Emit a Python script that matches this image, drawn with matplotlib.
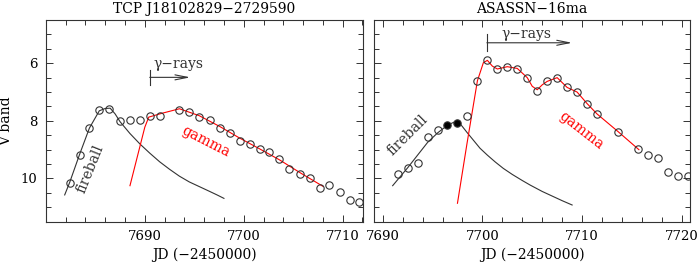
import matplotlib
matplotlib.use("Agg")
import matplotlib.pyplot as plt
from matplotlib.ticker import MultipleLocator

plt.rcParams['font.family'] = ['DejaVu Serif']

# --- TCP J18102829-2729590 (left panel) ---
tcp_jd = [7682.4, 7683.4, 7684.4, 7685.4, 7686.4, 7687.5, 7688.5, 7689.5,
          7690.5, 7691.5, 7693.5, 7694.5, 7695.5, 7696.6, 7697.6, 7698.6,
          7699.6, 7700.6, 7701.6, 7702.6, 7703.6, 7704.6, 7705.7, 7706.7,
          7707.7, 7708.6, 7709.7, 7710.7, 7711.7]
tcp_v = [10.14, 9.17, 8.25, 7.64, 7.59, 8.02, 7.98, 7.98,
         7.83, 7.83, 7.61, 7.70, 7.87, 7.98, 8.25, 8.41,
         8.70, 8.80, 8.97, 9.09, 9.34, 9.66, 9.85, 9.98,
         10.32, 10.21, 10.48, 10.73, 10.83]
# fireball model curve
tcp_fire_jd = [7681.9, 7682.4, 7683.4, 7684.4, 7685.4, 7686.0, 7686.5, 7687.0,
               7687.5, 7688.5, 7689.5, 7690.5, 7691.5, 7692.5, 7693.5, 7694.5,
               7695.5, 7696.5, 7697.3, 7698.0]
tcp_fire_v = [10.57, 10.14, 9.17, 8.25, 7.65, 7.57, 7.56, 7.76,
              8.03, 8.44, 8.80, 9.12, 9.42, 9.68, 9.92, 10.12,
              10.28, 10.44, 10.57, 10.69]
# gamma model curve
tcp_gam_jd = [7688.5, 7690.0, 7690.4, 7691.7, 7693.5, 7695.5, 7697.6, 7699.6,
              7701.6, 7703.6, 7705.7, 7708.0]
tcp_gam_v = [10.25, 8.22, 7.87, 7.74, 7.58, 7.82, 8.20, 8.60,
             8.97, 9.35, 9.80, 10.27]

# --- ASASSN-16ma (right panel) ---
asn_jd = [7691.5, 7692.5, 7693.5, 7694.5, 7695.5, 7698.5, 7699.5, 7700.5,
          7701.5, 7702.5, 7703.5, 7704.5, 7705.5, 7706.5, 7707.5, 7708.5,
          7709.5, 7710.5, 7711.5, 7713.6, 7715.6, 7716.6, 7717.6, 7718.6,
          7719.6, 7720.6]
asn_v = [9.86, 9.63, 9.45, 8.56, 8.33, 7.84, 6.63, 5.89,
         6.21, 6.14, 6.19, 6.52, 6.95, 6.63, 6.50, 6.84,
         7.01, 7.41, 7.76, 8.37, 8.99, 9.17, 9.28, 9.77,
         9.92, 9.92]
asn_filled_jd = [7696.5, 7697.5]
asn_filled_v = [8.13, 8.07]
asn_fire_jd = [7691.0, 7692.5, 7694.5, 7695.5, 7696.5, 7697.5, 7698.0, 7698.5,
               7699.0, 7699.76, 7700.5, 7701.3, 7702.1, 7703.0, 7704.0, 7704.8,
               7706.0, 7707.0, 7708.0, 7709.0]
asn_fire_v = [10.25, 9.63, 8.75, 8.42, 8.15, 7.99, 8.20, 8.42,
              8.63, 8.95, 9.19, 9.43, 9.65, 9.86, 10.07, 10.23,
              10.45, 10.61, 10.77, 10.92]
asn_gam_jd = [7697.5, 7698.45, 7699.5, 7700.1, 7700.5, 7701.0, 7701.5, 7702.5,
              7703.5, 7704.5, 7705.0, 7705.5, 7706.0, 7706.5, 7707.5, 7708.5,
              7709.5, 7710.5, 7711.5, 7713.6, 7715.7]
asn_gam_v = [10.86, 8.80, 6.61, 5.98, 5.90, 6.10, 6.20, 6.12,
             6.18, 6.50, 6.80, 6.92, 6.75, 6.63, 6.50, 6.84,
             7.00, 7.40, 7.76, 8.37, 9.00]

INK = '#333333'


def style_axes(ax, xlim):
    ax.set_xlim(*xlim)
    ax.set_ylim(11.5, 4.5)
    ax.xaxis.set_major_locator(MultipleLocator(10))
    ax.xaxis.set_minor_locator(MultipleLocator(2))
    ax.yaxis.set_major_locator(MultipleLocator(2))
    ax.yaxis.set_minor_locator(MultipleLocator(0.5))
    ax.tick_params(which='both', direction='in', top=True, right=True,
                   width=0.7, color=INK, labelsize=9.5, pad=6)
    ax.tick_params(which='major', length=5)
    ax.tick_params(which='minor', length=3.5)
    for s in ax.spines.values():
        s.set_linewidth(0.8)
        s.set_color(INK)
    ax.set_xlabel('JD (\u22122450000)', fontsize=10, labelpad=3)


def gamma_arrow(ax, x0, x1, y, bar_lo, bar_hi, tx, ty):
    ax.plot([x0, x0], [bar_lo, bar_hi], color=INK, lw=0.8)
    ax.annotate('', xy=(x1, y), xytext=(x0, y),
                arrowprops=dict(arrowstyle='->,head_length=0.9,head_width=0.18',
                                lw=0.8, color=INK, shrinkA=0, shrinkB=0))
    ax.text(tx, ty, '\u03b3\u2212rays', fontsize=10, color=INK,
            ha='left', va='baseline')


fig = plt.figure(figsize=(6.99, 2.62), dpi=100)
ax1 = fig.add_axes([0.0658, 0.1538, 0.4531, 0.7698])
ax2 = fig.add_axes([0.5355, 0.1538, 0.4517, 0.7698])

# left panel
ax1.plot(tcp_fire_jd, tcp_fire_v, color=INK, lw=0.8)
ax1.plot(tcp_gam_jd, tcp_gam_v, color='red', lw=0.8)
ax1.plot(tcp_jd, tcp_v, 'o', ms=5.3, mfc='none', mec=INK, mew=0.8)
gamma_arrow(ax1, 7690.5, 7694.6, 6.49, 6.23, 6.76, 7690.9, 6.18)
ax1.text(7684.5, 9.68, 'fireball', rotation=68, fontsize=10, color=INK,
         ha='center', va='center')
ax1.text(7696.2, 8.71, 'gamma', rotation=-27, fontsize=10, color='red',
         ha='center', va='center')
style_axes(ax1, (7680.01, 7712.03))
ax1.set_ylabel('V band', fontsize=10)
ax1.yaxis.set_label_coords(-0.103, 0.5)
ax1.set_title('TCP J18102829\u22122729590', fontsize=10, pad=5)

# right panel
ax2.plot(asn_fire_jd, asn_fire_v, color=INK, lw=0.8)
ax2.plot(asn_gam_jd, asn_gam_v, color='red', lw=0.8)
ax2.plot(asn_jd, asn_v, 'o', ms=5.3, mfc='none', mec=INK, mew=0.8)
ax2.plot(asn_filled_jd, asn_filled_v, 'o', ms=5.3, mfc='black', mec=INK, mew=0.8)
gamma_arrow(ax2, 7700.45, 7709.0, 5.29, 5.0, 5.58, 7701.9, 5.11)
ax2.text(7692.5, 8.5, 'fireball', rotation=45, fontsize=10, color=INK,
         ha='center', va='center')
ax2.text(7709.95, 8.33, 'gamma', rotation=-38, fontsize=10, color='red',
         ha='center', va='center')
style_axes(ax2, (7689.16, 7720.83))
ax2.tick_params(labelleft=False)
ax2.set_title('ASASSN\u221216ma', fontsize=10, pad=5)

fig.savefig('out.png', dpi=100)
